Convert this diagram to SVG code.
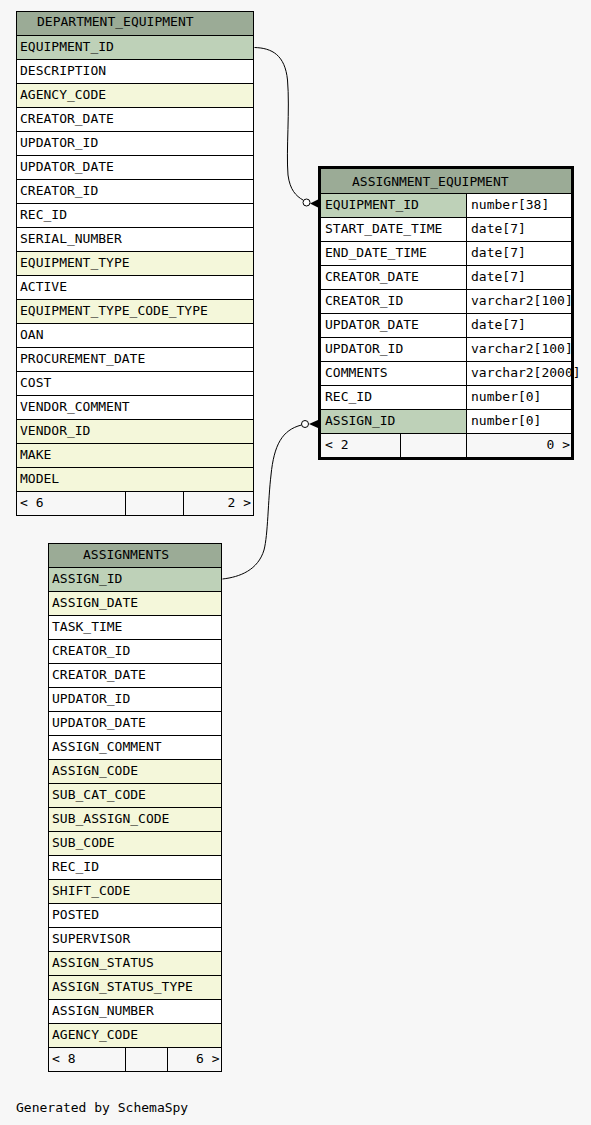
<svg xmlns="http://www.w3.org/2000/svg" width="591" height="1125" viewBox="0 0 591 1125">
<style>
text{font-family:"DejaVu Sans Mono","Liberation Mono",monospace;font-size:13px;fill:#000}
.h{fill:#9bab96;stroke:#000;stroke-width:1}
.p{fill:#bed1b8;stroke:#000;stroke-width:1}
.i{fill:#f4f7da;stroke:#000;stroke-width:1}
.w{fill:#ffffff;stroke:#000;stroke-width:1}
.f{fill:#f7f7f7;stroke:#000;stroke-width:1}
.e{text-anchor:end}
.c{fill:none;stroke:#000;stroke-width:1}
</style>
<rect width="591" height="1125" fill="#f7f7f7"/>
<g id="DEPARTMENT_EQUIPMENT">
<rect class="h" x="16.5" y="11.5" width="237" height="24"/>
<text x="37" y="26">DEPARTMENT_EQUIPMENT</text>
<rect class="p" x="16.5" y="35.5" width="237" height="24"/><text x="20" y="51">EQUIPMENT_ID</text>
<rect class="w" x="16.5" y="59.5" width="237" height="24"/><text x="20" y="75">DESCRIPTION</text>
<rect class="i" x="16.5" y="83.5" width="237" height="24"/><text x="20" y="99">AGENCY_CODE</text>
<rect class="w" x="16.5" y="107.5" width="237" height="24"/><text x="20" y="123">CREATOR_DATE</text>
<rect class="w" x="16.5" y="131.5" width="237" height="24"/><text x="20" y="147">UPDATOR_ID</text>
<rect class="w" x="16.5" y="155.5" width="237" height="24"/><text x="20" y="171">UPDATOR_DATE</text>
<rect class="w" x="16.5" y="179.5" width="237" height="24"/><text x="20" y="195">CREATOR_ID</text>
<rect class="w" x="16.5" y="203.5" width="237" height="24"/><text x="20" y="219">REC_ID</text>
<rect class="w" x="16.5" y="227.5" width="237" height="24"/><text x="20" y="243">SERIAL_NUMBER</text>
<rect class="i" x="16.5" y="251.5" width="237" height="24"/><text x="20" y="267">EQUIPMENT_TYPE</text>
<rect class="w" x="16.5" y="275.5" width="237" height="24"/><text x="20" y="291">ACTIVE</text>
<rect class="i" x="16.5" y="299.5" width="237" height="24"/><text x="20" y="315">EQUIPMENT_TYPE_CODE_TYPE</text>
<rect class="w" x="16.5" y="323.5" width="237" height="24"/><text x="20" y="339">OAN</text>
<rect class="w" x="16.5" y="347.5" width="237" height="24"/><text x="20" y="363">PROCUREMENT_DATE</text>
<rect class="w" x="16.5" y="371.5" width="237" height="24"/><text x="20" y="387">COST</text>
<rect class="w" x="16.5" y="395.5" width="237" height="24"/><text x="20" y="411">VENDOR_COMMENT</text>
<rect class="i" x="16.5" y="419.5" width="237" height="24"/><text x="20" y="435">VENDOR_ID</text>
<rect class="i" x="16.5" y="443.5" width="237" height="24"/><text x="20" y="459">MAKE</text>
<rect class="i" x="16.5" y="467.5" width="237" height="24"/><text x="20" y="483">MODEL</text>
<rect class="f" x="16.5" y="491.5" width="109" height="24"/>
<rect class="f" x="125.5" y="491.5" width="58" height="24"/>
<rect class="f" x="183.5" y="491.5" width="70" height="24"/>
<text x="20" y="507">&lt; 6</text>
<text class="e" x="251" y="507">2 &gt;</text>
</g>
<g id="ASSIGNMENTS">
<rect class="h" x="48.5" y="543.5" width="173" height="24"/>
<text x="83" y="559">ASSIGNMENTS</text>
<rect class="p" x="48.5" y="567.5" width="173" height="24"/><text x="52" y="583">ASSIGN_ID</text>
<rect class="i" x="48.5" y="591.5" width="173" height="24"/><text x="52" y="607">ASSIGN_DATE</text>
<rect class="w" x="48.5" y="615.5" width="173" height="24"/><text x="52" y="631">TASK_TIME</text>
<rect class="w" x="48.5" y="639.5" width="173" height="24"/><text x="52" y="655">CREATOR_ID</text>
<rect class="w" x="48.5" y="663.5" width="173" height="24"/><text x="52" y="679">CREATOR_DATE</text>
<rect class="w" x="48.5" y="687.5" width="173" height="24"/><text x="52" y="703">UPDATOR_ID</text>
<rect class="w" x="48.5" y="711.5" width="173" height="24"/><text x="52" y="727">UPDATOR_DATE</text>
<rect class="w" x="48.5" y="735.5" width="173" height="24"/><text x="52" y="751">ASSIGN_COMMENT</text>
<rect class="i" x="48.5" y="759.5" width="173" height="24"/><text x="52" y="775">ASSIGN_CODE</text>
<rect class="i" x="48.5" y="783.5" width="173" height="24"/><text x="52" y="799">SUB_CAT_CODE</text>
<rect class="i" x="48.5" y="807.5" width="173" height="24"/><text x="52" y="823">SUB_ASSIGN_CODE</text>
<rect class="i" x="48.5" y="831.5" width="173" height="24"/><text x="52" y="847">SUB_CODE</text>
<rect class="w" x="48.5" y="855.5" width="173" height="24"/><text x="52" y="871">REC_ID</text>
<rect class="i" x="48.5" y="879.5" width="173" height="24"/><text x="52" y="895">SHIFT_CODE</text>
<rect class="w" x="48.5" y="903.5" width="173" height="24"/><text x="52" y="919">POSTED</text>
<rect class="w" x="48.5" y="927.5" width="173" height="24"/><text x="52" y="943">SUPERVISOR</text>
<rect class="i" x="48.5" y="951.5" width="173" height="24"/><text x="52" y="967">ASSIGN_STATUS</text>
<rect class="i" x="48.5" y="975.5" width="173" height="24"/><text x="52" y="991">ASSIGN_STATUS_TYPE</text>
<rect class="w" x="48.5" y="999.5" width="173" height="24"/><text x="52" y="1015">ASSIGN_NUMBER</text>
<rect class="i" x="48.5" y="1023.5" width="173" height="24"/><text x="52" y="1039">AGENCY_CODE</text>
<rect class="f" x="48.5" y="1047.5" width="77" height="24"/>
<rect class="f" x="125.5" y="1047.5" width="42" height="24"/>
<rect class="f" x="167.5" y="1047.5" width="54" height="24"/>
<text x="52" y="1063">&lt; 8</text>
<text class="e" x="219.5" y="1063">6 &gt;</text>
</g>
<g id="ASSIGNMENT_EQUIPMENT">
<rect class="h" x="320.5" y="168.5" width="251" height="25"/>
<text x="352" y="186">ASSIGNMENT_EQUIPMENT</text>
<rect class="p" x="320.5" y="193.5" width="146" height="24"/><rect class="w" x="466.5" y="193.5" width="105" height="24"/>
<text x="325" y="209">EQUIPMENT_ID</text><text x="471" y="209">number[38]</text>
<rect class="w" x="320.5" y="217.5" width="146" height="24"/><rect class="w" x="466.5" y="217.5" width="105" height="24"/>
<text x="325" y="233">START_DATE_TIME</text><text x="471" y="233">date[7]</text>
<rect class="w" x="320.5" y="241.5" width="146" height="24"/><rect class="w" x="466.5" y="241.5" width="105" height="24"/>
<text x="325" y="257">END_DATE_TIME</text><text x="471" y="257">date[7]</text>
<rect class="w" x="320.5" y="265.5" width="146" height="24"/><rect class="w" x="466.5" y="265.5" width="105" height="24"/>
<text x="325" y="281">CREATOR_DATE</text><text x="471" y="281">date[7]</text>
<rect class="w" x="320.5" y="289.5" width="146" height="24"/><rect class="w" x="466.5" y="289.5" width="105" height="24"/>
<text x="325" y="305">CREATOR_ID</text><text x="471" y="305">varchar2[100]</text>
<rect class="w" x="320.5" y="313.5" width="146" height="24"/><rect class="w" x="466.5" y="313.5" width="105" height="24"/>
<text x="325" y="329">UPDATOR_DATE</text><text x="471" y="329">date[7]</text>
<rect class="w" x="320.5" y="337.5" width="146" height="24"/><rect class="w" x="466.5" y="337.5" width="105" height="24"/>
<text x="325" y="353">UPDATOR_ID</text><text x="471" y="353">varchar2[100]</text>
<rect class="w" x="320.5" y="361.5" width="146" height="24"/><rect class="w" x="466.5" y="361.5" width="105" height="24"/>
<text x="325" y="377">COMMENTS</text><text x="471" y="377">varchar2[2000]</text>
<rect class="w" x="320.5" y="385.5" width="146" height="24"/><rect class="w" x="466.5" y="385.5" width="105" height="24"/>
<text x="325" y="401">REC_ID</text><text x="471" y="401">number[0]</text>
<rect class="p" x="320.5" y="409.5" width="146" height="24"/><rect class="w" x="466.5" y="409.5" width="105" height="24"/>
<text x="325" y="425">ASSIGN_ID</text><text x="471" y="425">number[0]</text>
<rect class="f" x="320.5" y="433.5" width="80" height="24"/>
<rect class="f" x="400.5" y="433.5" width="66" height="24"/>
<rect class="f" x="466.5" y="433.5" width="105" height="24"/>
<text x="325" y="449">&lt; 2</text>
<text class="e" x="570" y="449">0 &gt;</text>
<rect x="319.5" y="167.5" width="253" height="291" fill="none" stroke="#000" stroke-width="3"/>
</g>
<g id="connectors">
<path class="c" d="M254.5,47.5 C272,48 285,55 287.5,80 C290,110 286,150 288,175 C290,190 296,196 303,200"/>
<circle cx="306.5" cy="202.5" r="3.5" fill="#fff" stroke="#000"/>
<polygon points="310,203.5 318,199.5 318,207.5" fill="#000"/>
<path class="c" d="M222.5,579 C240,577 258,570 264,550 C268,535 268,500 271,475 C274,445 282,430 301.5,425"/>
<circle cx="305" cy="424" r="3.5" fill="#fff" stroke="#000"/>
<polygon points="309,424 318,420 318,428" fill="#000"/>
</g>
<text x="16" y="1112">Generated by SchemaSpy</text>
</svg>
